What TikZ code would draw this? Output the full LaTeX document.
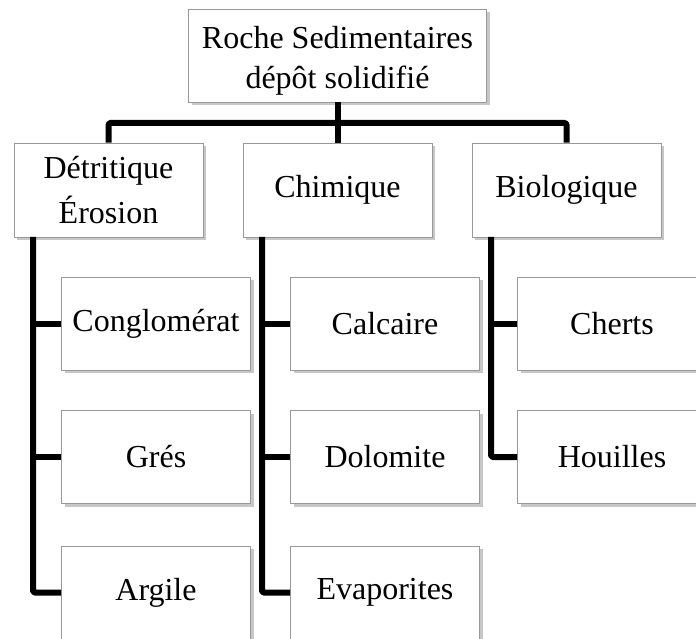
\documentclass[tikz,border=0pt]{standalone}
\usepackage{fontspec}
\setmainfont{Liberation Serif}
\usetikzlibrary{shadows}
\tikzset{
  box/.style={draw=black!40, line width=0.8pt, fill=white, inner sep=0pt,
    drop shadow={shadow xshift=3pt, shadow yshift=-3pt, opacity=0.22, fill=black},
    font=\fontsize{32}{38}\selectfont, align=center},
  lvlone/.style={box, minimum width=189pt, minimum height=94pt},
  lvltwo/.style={box, minimum width=189pt, minimum height=93pt},
  conn/.style={line width=6pt, draw=black, line join=round, rounded corners=1.5pt}
}
\begin{document}
\begin{tikzpicture}[x=1pt, y=-1pt]
\clip (0,0) rectangle (696,639);
\useasboundingbox (0,0) rectangle (696,639);
\fill[white] (0,0) rectangle (696,639);

\node[box, minimum width=298pt, minimum height=93pt,
  label={[align=center, font=\fontsize{32}{40}\selectfont, yshift=-5pt]center:Roche Sedimentaires\\dépôt solidifié}]
  (top) at (337.5,55.5) {};

\node[lvlone, font=\fontsize{32}{45}\selectfont] (det) at (108.5,190) {Détritique\\Érosion};
\node[lvlone] (chi) at (337.5,190) {Chimique};
\node[lvlone] (bio) at (566.5,190) {Biologique};

\node[lvltwo] (con) at (156,323.5) {Conglomérat};
\node[lvltwo] (gre) at (156,457) {Grés};
\node[lvltwo] (arg) at (156,592.5) {Argile};

\node[lvltwo] (cal) at (385,323.5) {Calcaire};
\node[lvltwo] (dol) at (385,457) {Dolomite};
\node[lvltwo] (eva) at (385,592.5) {Evaporites};

\node[lvltwo] (che) at (612,323.5) {Cherts};
\node[lvltwo] (hou) at (612,457) {Houilles};

\coordinate (bar) at (337.5,123);
\coordinate (dstem) at (33,237);
\coordinate (cstem) at (262,237);
\coordinate (bstem) at (491,237);

\draw[conn] (top.south) -- (chi.north);
\draw[conn] (det.north) |- (bar) -| (bio.north);

\draw[conn] (dstem) |- (arg.west);
\draw[conn] (con.west) -- (con.west -| dstem);
\draw[conn] (gre.west) -- (gre.west -| dstem);

\draw[conn] (cstem) |- (eva.west);
\draw[conn] (cal.west) -- (cal.west -| cstem);
\draw[conn] (dol.west) -- (dol.west -| cstem);

\draw[conn] (bstem) |- (hou.west);
\draw[conn] (che.west) -- (che.west -| bstem);
\end{tikzpicture}
\end{document}
